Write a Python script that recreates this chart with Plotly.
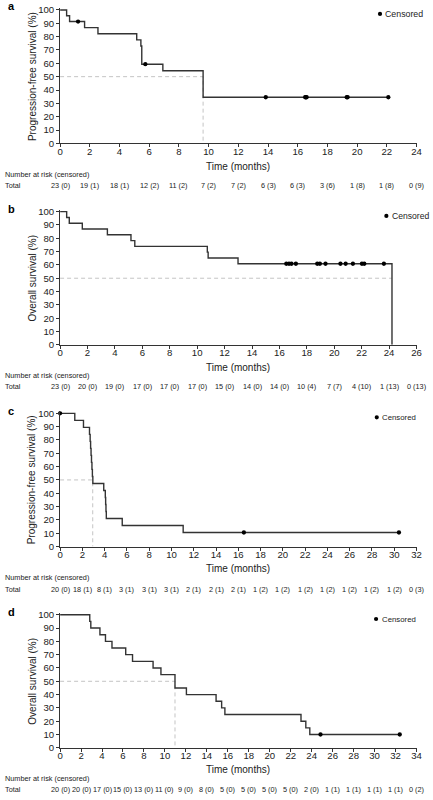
import plotly.graph_objects as go

# ---------------- data ----------------
# Panel a: progression-free survival
a_times = [0, 0.44, 0.64, 1.65, 2.55, 5.16, 5.44, 5.50, 6.92, 9.63, 22.1]
a_surv = [100, 95.65, 91.30, 86.74, 82.17, 77.6, 73.0, 59.35, 54.4, 34.6, 34.6]
a_cens_t = [1.21, 5.74, 13.85, 16.5, 16.55, 16.6, 19.3, 19.36, 22.1]
a_cens_s = [91.30, 59.35, 34.6, 34.6, 34.6, 34.6, 34.6, 34.6, 34.6]
a_median = 9.63
a_xmax = 24
a_risk = ["23 (0)", "19 (1)", "18 (1)", "12 (2)", "11 (2)", "7 (2)", "7 (2)",
          "6 (3)", "6 (3)", "3 (6)", "1 (8)", "1 (8)", "0 (9)"]

# Panel b: overall survival
b_times = [0, 0.48, 0.67, 1.62, 3.45, 5.17, 5.45, 10.74, 10.80, 12.98, 24.21, 24.21]
b_surv = [100, 95.65, 91.30, 86.96, 82.61, 78.26, 73.91, 69.57, 65.22, 60.87, 60.87, 0]
b_cens_t = [16.5, 16.7, 16.88, 17.2, 18.76, 18.95, 19.36, 20.45, 20.83, 21.36,
            22.02, 22.19, 23.62]
b_cens_s = [60.87] * 13
b_median_end = 24.21
b_xmax = 26
b_risk = ["23 (0)", "20 (0)", "19 (0)", "17 (0)", "17 (0)", "17 (0)", "15 (0)",
          "14 (0)", "14 (0)", "10 (4)", "7 (7)", "4 (10)", "1 (13)", "0 (13)"]

# Panel c: progression-free survival
c_times = [0, 1.32, 2.10, 2.64, 2.70, 2.74, 2.78, 2.82, 2.86, 2.90, 2.94, 3.92,
           4.06, 4.09, 4.12, 4.15, 5.58, 11.05, 30.42]
c_surv = [100, 94.74, 89.47, 84.21, 78.95, 73.68, 68.42, 63.16, 57.89, 52.63,
          47.37, 42.11, 36.84, 31.58, 26.32, 21.05, 15.79, 10.53, 10.53]
c_cens_t = [0.0, 16.5, 30.42]
c_cens_s = [100, 10.53, 10.53]
c_median = 2.93
c_xmax = 32
c_risk = ["20 (0)", "18 (1)", "8 (1)", "3 (1)", "3 (1)", "3 (1)", "2 (1)", "2 (1)",
          "2 (1)", "1 (2)", "1 (2)", "1 (2)", "1 (2)", "1 (2)", "1 (2)", "1 (2)", "0 (3)"]

# Panel d: overall survival
d_times = [0, 2.83, 2.93, 3.80, 4.33, 4.95, 6.26, 6.91, 8.87, 9.62, 10.96, 12.05,
           14.88, 15.41, 15.72, 22.98, 23.44, 23.82, 32.4]
d_surv = [100, 95, 90, 85, 80, 75, 70, 65, 60, 55, 45, 40, 35, 30, 25, 20, 15, 10, 10]
d_cens_t = [24.84, 32.4]
d_cens_s = [10, 10]
d_median = 10.96
d_xmax = 34
d_risk = ["20 (0)", "20 (0)", "17 (0)", "15 (0)", "13 (0)", "11 (0)", "9 (0)", "8 (0)",
          "5 (0)", "5 (0)", "5 (0)", "5 (0)", "2 (0)", "1 (1)", "1 (1)", "1 (1)", "1 (1)", "0 (2)"]

labels = ["a", "b", "c", "d"]
ytitles = ["Progression-free survival (%)", "Overall survival (%)",
           "Progression-free survival (%)", "Overall survival (%)"]

# ---------------- layout geometry (pixels) ----------------
W, H = 433, 800
X0, X1 = 58.3, 422.3
# (y of 100, y of 0, title y, NaR y, Total y, label y, legend dot x, legend y, legend font)
geo = [
    (6.0, 141.0, 164.0, 172.7, 183.7, 2.0, 385.0, 10.0, 8.8),
    (210.0, 344.7, 367.7, 375.6, 386.7, 207.0, 391.5, 214.3, 8.6),
    (414.0, 548.7, 571.0, 580.3, 591.7, 411.5, 381.7, 418.0, 7.8),
    (617.7, 752.3, 774.3, 783.3, 794.7, 614.5, 381.0, 622.0, 7.8),
]
YPAD = 1.5

FONT = "Liberation Sans, Arial, Helvetica, sans-serif"
LINE = "#333333"
TXT = "#222222"

panels = [
    (a_times, a_surv, a_cens_t, a_cens_s, a_xmax, a_risk),
    (b_times, b_surv, b_cens_t, b_cens_s, b_xmax, b_risk),
    (c_times, c_surv, c_cens_t, c_cens_s, c_xmax, c_risk),
    (d_times, d_surv, d_cens_t, d_cens_s, d_xmax, d_risk),
]
medians = [
    ([0, a_median, a_median], [50, 50, 0]),
    ([0, b_median_end], [50, 50]),
    ([0, c_median, c_median], [50, 50, 0]),
    ([0, d_median, d_median], [50, 50, 0]),
]


def py(p):
    return 1 - p / H


fig = go.Figure()
annotations = []
shapes = []
layout = {}

for i, (times, surv, ct, cs, xmax, risk) in enumerate(panels):
    n = "" if i == 0 else str(i + 1)
    xa, ya = "x" + n, "y" + n
    y100, y0, ty, nary, toty, laby, ldx, ldy, lfs = geo[i]
    top_px = y100 - YPAD / 100 * (y0 - y100)

    layout["xaxis" + n] = dict(
        domain=[X0 / W, X1 / W], anchor=ya, range=[0, xmax],
        tickmode="array", tickvals=list(range(0, xmax + 1, 2)),
        ticks="outside", ticklen=3, tickwidth=1, tickcolor=LINE,
        showline=True, linecolor=LINE, linewidth=1, showgrid=False, zeroline=False,
        tickfont=dict(family=FONT, size=9.6, color=TXT), fixedrange=True,
        ticklabelstandoff=-4,
    )
    layout["yaxis" + n] = dict(
        domain=[py(y0), py(top_px)], anchor=xa, range=[0, 100 + YPAD],
        tickmode="array", tickvals=list(range(0, 101, 10)),
        ticks="outside", ticklen=3, tickwidth=1, tickcolor=LINE,
        showline=True, linecolor=LINE, linewidth=1, showgrid=False, zeroline=False,
        tickfont=dict(family=FONT, size=9.6, color=TXT), fixedrange=True,
    )

    mx, my = medians[i]
    fig.add_trace(go.Scatter(x=mx, y=my, xaxis=xa, yaxis=ya, mode="lines",
                             line=dict(color="#c4c4c4", width=1, dash="4px,3px"),
                             hoverinfo="skip", showlegend=False))
    fig.add_trace(go.Scatter(x=times, y=surv, xaxis=xa, yaxis=ya, mode="lines",
                             line=dict(color=LINE, width=1.4, shape="hv"),
                             showlegend=False))
    fig.add_trace(go.Scatter(x=ct, y=cs, xaxis=xa, yaxis=ya, mode="markers",
                             marker=dict(color="#000000", size=4.3), cliponaxis=False,
                             showlegend=False))

    # axis titles
    annotations.append(dict(text="Time (months)", xref="paper", yref="paper",
                            x=(X0 + X1) / 2 / W, y=py(ty), xanchor="center", yanchor="middle",
                            showarrow=False, font=dict(family=FONT, size=10, color=TXT)))
    annotations.append(dict(text=ytitles[i], xref="paper", yref="paper",
                            x=30 / W, y=py((y0 + y100) / 2), textangle=-90,
                            xanchor="center", yanchor="middle",
                            showarrow=False, font=dict(family=FONT, size=10, color=TXT)))
    # panel letter
    annotations.append(dict(text="<b>%s</b>" % labels[i], xref="paper", yref="paper",
                            x=3 / W, y=py(laby), xanchor="left", yanchor="middle",
                            showarrow=False, font=dict(family=FONT, size=11, color="#000")))
    # number at risk
    annotations.append(dict(text="Number at risk (censored)", xref="paper", yref="paper",
                            x=0, y=py(nary), xanchor="left", yanchor="middle",
                            showarrow=False, font=dict(family=FONT, size=7.3, color=TXT)))
    annotations.append(dict(text="Total", xref="paper", yref="paper",
                            x=0, y=py(toty), xanchor="left", yanchor="middle",
                            showarrow=False, font=dict(family=FONT, size=7.3, color=TXT)))
    for k, lab in enumerate(risk):
        annotations.append(dict(text=lab, xref=xa, yref="paper", x=2 * k, y=py(toty),
                                xanchor="center", yanchor="middle", showarrow=False,
                                font=dict(family=FONT, size=7.3, color=TXT)))
    # legend
    shapes.append(dict(type="circle", xref="paper", yref="paper",
                       xsizemode="pixel", ysizemode="pixel",
                       xanchor=ldx / W, yanchor=py(ldy),
                       x0=-2.1, x1=2.1, y0=-2.1, y1=2.1,
                       fillcolor="#000", line=dict(width=0)))
    annotations.append(dict(text="Censored", xref="paper", yref="paper",
                            x=(ldx + 3.5) / W, y=py(ldy), xanchor="left", yanchor="middle",
                            showarrow=False, font=dict(family=FONT, size=lfs, color=TXT)))

fig.update_layout(
    width=W, height=H, margin=dict(l=0, r=0, t=0, b=0),
    paper_bgcolor="white", plot_bgcolor="white",
    annotations=annotations, shapes=shapes, showlegend=False,
    **layout,
)

fig.write_html("out.html")
